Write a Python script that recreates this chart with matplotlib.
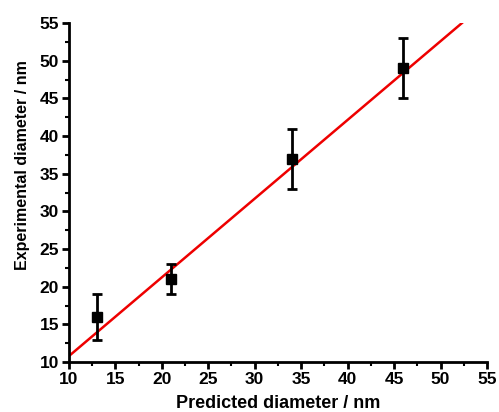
import matplotlib
matplotlib.use('Agg')
import matplotlib.pyplot as plt
import numpy as np
from matplotlib.ticker import MultipleLocator

plt.rcParams['font.family'] = ['Liberation Sans', 'DejaVu Sans']
plt.rcParams['font.weight'] = 'bold'

# measured points
predicted = [13, 21, 34, 46]
experimental = [16, 21, 37, 49]
err = [3, 2, 4, 4]

# linear fit
slope = 1.045
intercept = 0.35
fit_x = [10, 52.3]

fig = plt.figure(figsize=(4.99, 4.12), dpi=100)
ax = fig.add_axes([0.138, 0.121, 0.838, 0.823])

fx = np.array(fit_x)
ax.plot(fx, slope * fx + intercept, color='#ee0000', lw=1.8, zorder=2)
ax.errorbar(predicted, experimental, yerr=err, fmt='s', color='black',
            ms=7, elinewidth=2, capsize=3.3, capthick=2, zorder=3)

ax.set_xlim(10, 55)
ax.set_ylim(10, 55)
ax.xaxis.set_major_locator(MultipleLocator(5))
ax.yaxis.set_major_locator(MultipleLocator(5))
ax.xaxis.set_minor_locator(MultipleLocator(2.5))
ax.yaxis.set_minor_locator(MultipleLocator(2.5))
ax.spines['top'].set_visible(False)
ax.spines['right'].set_visible(False)
ax.spines['left'].set_linewidth(2)
ax.spines['bottom'].set_linewidth(2)
ax.tick_params(which='major', length=5, width=2, labelsize=12.5, pad=2)
ax.tick_params(which='minor', length=3, width=1.5)

ax.set_xlabel('Predicted diameter / nm', fontsize=13, fontweight='bold')
ax.set_ylabel('Experimental diameter / nm', fontsize=11.5, fontweight='bold')
ax.xaxis.set_label_coords(0.5, -0.098)
ax.yaxis.set_label_coords(-0.092, 0.58)

fig.savefig('out.png', dpi=100)
